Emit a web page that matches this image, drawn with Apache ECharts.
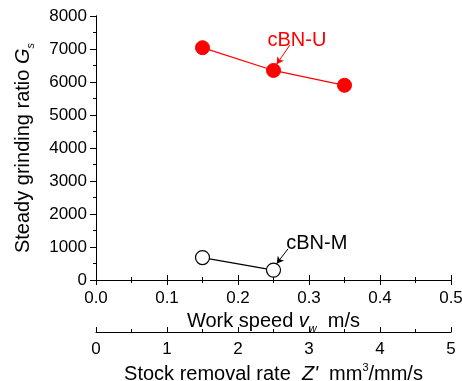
<!DOCTYPE html>
<html><head><meta charset="utf-8">
<script src="https://cdn.jsdelivr.net/npm/echarts@6/dist/echarts.min.js"></script>
<style>html,body{margin:0;padding:0;background:#fff}#c{width:462px;height:381px}</style>
</head><body><div id="c"></div>
<script>
const workSpeed = [0.15, 0.25, 0.35];
const cbnU = [7040, 6350, 5900];
const workSpeedM = [0.15, 0.25];
const cbnM = [680, 300];
const seriesNames = ['cBN-U', 'cBN-M'];

const FONT = 'Liberation Sans, Arial, sans-serif';
const TICK = 17, TITLE = 20;
const chart = echarts.init(document.getElementById('c'), null, {renderer: 'canvas'});
const axisLine = {show: true, lineStyle: {color: '#000', width: 1}};
const tickStyle = {color: '#000', width: 1};
const titleRich = {
  i: {fontStyle: 'italic', fontSize: TITLE, fontFamily: FONT, color: '#000'},
  sub: {fontStyle: 'italic', fontSize: 11, fontFamily: FONT, color: '#000', verticalAlign: 'bottom', padding: [14, 0, 0, 0]},
  sup: {fontSize: 11, fontFamily: FONT, color: '#000', verticalAlign: 'top', padding: [0, 0, 12, 0]}
};
chart.setOption({
  backgroundColor: '#fff',
  animation: false,
  grid: {left: 96, right: 11, top: 16, bottom: 101, containLabel: false, outerBoundsMode: 'none'},
  xAxis: [
    {type: 'value', position: 'bottom', min: 0, max: 0.5, interval: 0.1,
     axisLine: axisLine, axisTick: {inside: true, length: 5, lineStyle: tickStyle},
     minorTick: {show: true, splitNumber: 2, length: 3, lineStyle: tickStyle},
     splitLine: {show: false},
     axisLabel: {color: '#000', fontSize: TICK, fontFamily: FONT, margin: 10, formatter: v => v.toFixed(1)},
     name: 'Work speed {i|v}{sub|w}  m/s', nameLocation: 'middle', nameGap: 22,
     nameTextStyle: {color: '#000', fontSize: TITLE, fontFamily: FONT, rich: titleRich}},
    {type: 'value', position: 'top', min: 0, max: 0.5, interval: 0.1,
     axisLine: axisLine, axisTick: {inside: true, length: 5, lineStyle: tickStyle},
     minorTick: {show: true, splitNumber: 2, length: 3, lineStyle: tickStyle},
     splitLine: {show: false}, axisLabel: {show: false}},
    {type: 'value', position: 'bottom', offset: 52, min: 0, max: 5, interval: 1,
     axisLine: axisLine, axisTick: {inside: true, length: 5, lineStyle: tickStyle},
     minorTick: {show: true, splitNumber: 2, length: 3, lineStyle: tickStyle},
     splitLine: {show: false},
     axisLabel: {color: '#000', fontSize: TICK, fontFamily: FONT, margin: 9},
     name: 'Stock removal rate  {i|Z\'}  mm{sup|3}/mm/s', nameLocation: 'middle', nameGap: 19,
     nameTextStyle: {color: '#000', fontSize: TITLE, fontFamily: FONT, rich: titleRich}}
  ],
  yAxis: [
    {type: 'value', position: 'left', min: 0, max: 8000, interval: 1000,
     axisLine: axisLine, axisTick: {inside: false, length: 6, lineStyle: tickStyle},
     minorTick: {show: true, splitNumber: 2, length: 3, lineStyle: tickStyle},
     splitLine: {show: false},
     axisLabel: {color: '#000', fontSize: TICK, fontFamily: FONT, margin: 9, formatter: v => String(v)},
     name: 'Steady grinding ratio {i|G}{sub|s}', nameLocation: 'middle', nameRotate: 90, nameGap: 60,
     nameTextStyle: {color: '#000', fontSize: TITLE, fontFamily: FONT, rich: titleRich}},
    {type: 'value', position: 'right', min: 0, max: 8000, interval: 1000,
     axisLine: axisLine, axisTick: {inside: true, length: 5, lineStyle: tickStyle},
     minorTick: {show: true, splitNumber: 2, length: 3, lineStyle: tickStyle},
     splitLine: {show: false}, axisLabel: {show: false}}
  ],
  series: [
    {name: seriesNames[0], type: 'line', xAxisIndex: 0, yAxisIndex: 0,
     data: workSpeed.map((x, i) => [x, cbnU[i]]),
     symbol: 'circle', symbolSize: 14,
     lineStyle: {color: '#ff0000', width: 1.2}, itemStyle: {color: '#ff0000', borderColor: '#ff0000'},
     markPoint: {symbol: 'circle', symbolSize: 0, silent: true,
       data: [{coord: [0.283, 7270], label: {show: true, formatter: seriesNames[0], color: '#ff0000', fontSize: TITLE, fontFamily: FONT, position: 'inside'}}]},
     markLine: {silent: true, symbol: ['none', 'arrow'], symbolSize: [6, 7],
       lineStyle: {color: '#ff0000', width: 1, type: 'solid'}, label: {show: false},
       data: [[{coord: [0.273, 7118]}, {coord: [0.2545, 6540]}]]}},
    {name: seriesNames[1], type: 'line', xAxisIndex: 0, yAxisIndex: 0,
     data: workSpeedM.map((x, i) => [x, cbnM[i]]),
     symbol: 'circle', symbolSize: 14,
     lineStyle: {color: '#000', width: 1.2}, itemStyle: {color: '#fff', borderColor: '#000', borderWidth: 1.2},
     markPoint: {symbol: 'circle', symbolSize: 0, silent: true,
       data: [{coord: [0.311, 1095], label: {show: true, formatter: seriesNames[1], color: '#000', fontSize: TITLE, fontFamily: FONT, position: 'inside'}}]},
     markLine: {silent: true, symbol: ['none', 'arrow'], symbolSize: [6, 7],
       lineStyle: {color: '#000', width: 1, type: 'solid'}, label: {show: false},
       data: [[{coord: [0.2704, 943]}, {coord: [0.2545, 496]}]]}}
  ]
});
</script></body></html>
